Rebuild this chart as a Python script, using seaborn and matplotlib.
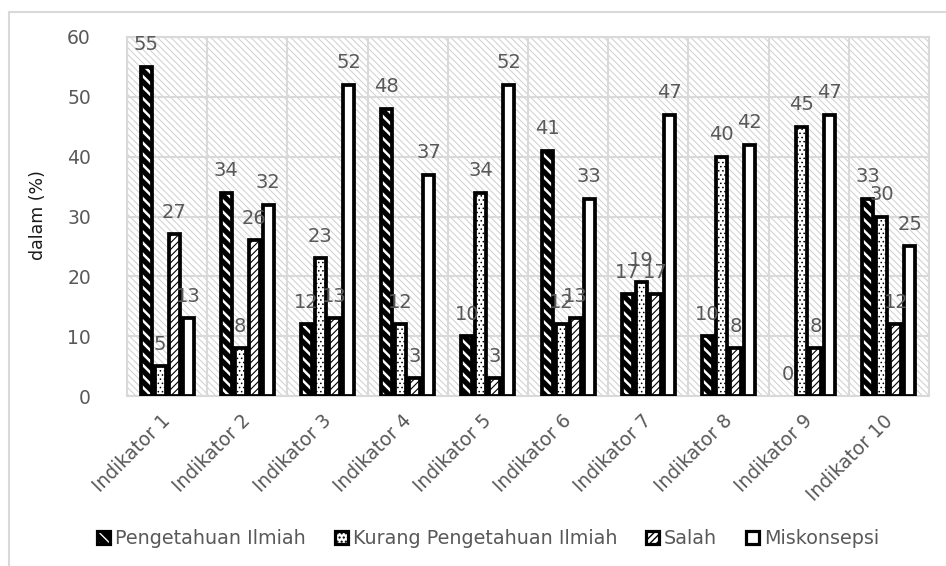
import numpy as np
import pandas as pd
import matplotlib
matplotlib.use("Agg")
import matplotlib.pyplot as plt
import matplotlib.transforms as mtransforms
import seaborn as sns
from matplotlib.patches import Rectangle
from matplotlib.lines import Line2D
from matplotlib.legend_handler import HandlerTuple

# ---- data (percent) ----
indikator = ["Indikator 1", "Indikator 2", "Indikator 3", "Indikator 4", "Indikator 5",
             "Indikator 6", "Indikator 7", "Indikator 8", "Indikator 9", "Indikator 10"]
kategori = ["Pengetahuan Ilmiah", "Kurang Pengetahuan Ilmiah", "Salah", "Miskonsepsi"]
pengetahuan = [55, 34, 12, 48, 10, 41, 17, 10, 0, 33]
kurang = [5, 8, 23, 12, 34, 12, 19, 40, 45, 30]
salah = [27, 26, 13, 3, 3, 13, 17, 8, 8, 12]
miskonsepsi = [13, 32, 52, 37, 52, 33, 47, 42, 47, 25]
y_ticks = [0, 10, 20, 30, 40, 50, 60]

series_values = [pengetahuan, kurang, salah, miskonsepsi]
df = pd.DataFrame({
    "indikator": indikator * len(kategori),
    "kategori": [k for k in kategori for _ in indikator],
    "persen": [v for vals in series_values for v in vals],
})

sns.set_theme(style="white")
plt.rcParams["font.family"] = ["DejaVu Sans"]
plt.rcParams["hatch.linewidth"] = 1.0

GRID = "#d9d9d9"
TXT = "#595959"

# black & white pattern fills: (face, hatch, hatch colour, hatch width)
fills = [
    ("black", "\\\\\\", "white", 1.8),
    ("white", "....", "black", 0.6),
    ("white", "/////", "black", 0.8),
    ("white", None, "black", 1.0),
]

fig = plt.figure(figsize=(9.46, 5.66), dpi=100)
ax = fig.add_axes([127 / 946, 1 - 396 / 566, 802 / 946, 359 / 566])

# light diagonal-hatched plot area
bg = Rectangle((0, 0), 1, 1, transform=ax.transAxes, facecolor="white",
               edgecolor="#cfcfcf", linewidth=0, hatch="\\\\\\\\\\", zorder=0)
if hasattr(bg, "set_hatch_linewidth"):
    bg.set_hatch_linewidth(0.7)
ax.add_patch(bg)

sns.barplot(data=df, x="indikator", y="persen", hue="kategori",
            order=indikator, hue_order=kategori,
            palette=["black", "white", "white", "white"],
            width=0.7, gap=0.22, errorbar=None, legend=False, ax=ax, zorder=3)

for si, cont in enumerate(ax.containers):
    face, hatch, hcol, hlw = fills[si]
    for p in cont.patches:
        x, w, h = p.get_x(), p.get_width(), p.get_height()
        p.set_facecolor(face)
        p.set_edgecolor(hcol)
        p.set_linewidth(0)
        p.set_hatch(hatch)
        if hasattr(p, "set_hatch_linewidth"):
            p.set_hatch_linewidth(hlw)
        if h > 0:
            ax.add_patch(Rectangle((x, 0), w, h, fill=False, edgecolor="black",
                                   linewidth=2.7, zorder=3.5))
        else:
            p.set_visible(False)
        ax.annotate(f"{h:.0f}", (x + w / 2, h), xytext=(0, 22),
                    textcoords="offset pixels", ha="center", va="center",
                    color=TXT, fontsize=14, zorder=5, annotation_clip=False)

ax.set_xlim(-0.5, len(indikator) - 0.5)
ax.set_ylim(0, 60)
ax.set_yticks(y_ticks)
ax.set_xticks(np.arange(-0.5, len(indikator), 1), minor=True)
ax.set_axisbelow(True)
ax.grid(False)
ax.yaxis.grid(True, color=GRID, linewidth=1.5)
ax.xaxis.grid(True, which="minor", color=GRID, linewidth=1.5)
for s in ax.spines.values():
    s.set_color(GRID)
    s.set_linewidth(1.5)

ax.tick_params(axis="both", which="both", length=0, colors=TXT, labelsize=13.5)
ax.tick_params(axis="y", pad=26)
ax.tick_params(axis="x", pad=11)
ax.set_xticks(range(len(indikator)))
ax.set_xticklabels(indikator, rotation=45, ha="right", rotation_mode="anchor")
shift = mtransforms.ScaledTranslation(-0.06, 0, fig.dpi_scale_trans)
for lbl in ax.get_xticklabels():
    lbl.set_transform(lbl.get_transform() + shift)
ax.set_xlabel("")
ax.set_ylabel("dalam (%)", fontsize=12.5, color="#1a1a1a")
ax.yaxis.set_label_coords(-0.100, 0.504)

# legend with pattern swatches (fill + outline drawn on top of each other)
handles = []
for face, hatch, hcol, hlw in fills:
    f = Rectangle((0, 0), 1, 1, facecolor=face, edgecolor=hcol, linewidth=0, hatch=hatch)
    if hasattr(f, "set_hatch_linewidth"):
        f.set_hatch_linewidth(hlw)
    o = Rectangle((0, 0), 1, 1, fill=False, edgecolor="black", linewidth=2.3)
    handles.append((f, o))
fig.legend(handles, kategori, loc="center", bbox_to_anchor=(0.516, 1 - 539 / 566),
           ncol=4, frameon=False, fontsize=13.8, labelcolor=TXT,
           handlelength=0.68, handleheight=0.63, handletextpad=0.28,
           columnspacing=1.48, handler_map={tuple: HandlerTuple(ndivide=1, pad=0)})

# outer chart frame
fig.add_artist(Line2D([9 / 946, 9 / 946], [0, 1 - 12 / 566], color=GRID, linewidth=1.5))
fig.add_artist(Line2D([9 / 946, 1], [1 - 12 / 566, 1 - 12 / 566], color=GRID, linewidth=1.5))

fig.savefig("out.png", dpi=100)
